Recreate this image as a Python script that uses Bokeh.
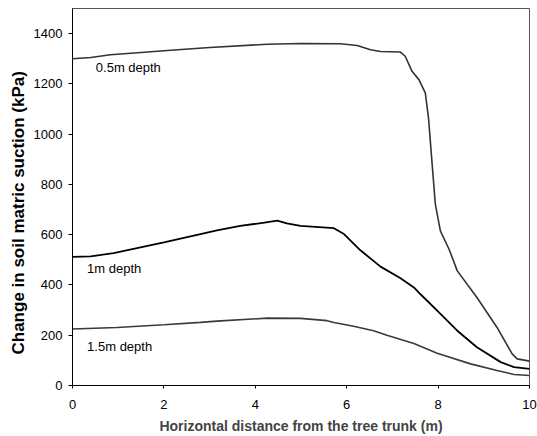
from bokeh.plotting import figure
from bokeh.models import ColumnDataSource, Range1d, FixedTicker, Title
from bokeh.core.properties import value
from bokeh.embed import file_html
from bokeh.resources import INLINE

# ---- data ----
x_05 = [0, 0.4, 0.83, 1.5, 2, 3, 4.26, 5, 5.86, 6.23, 6.52, 6.74, 7.17, 7.28, 7.43,
        7.58, 7.72, 7.79, 7.87, 7.94, 8.05, 8.24, 8.42, 8.85, 9.29, 9.62, 9.73, 10]
y_05 = [1300, 1305, 1316, 1325, 1332, 1345, 1358, 1361, 1360, 1353, 1336, 1329, 1327, 1310, 1250,
        1217, 1164, 1065, 880, 721, 615, 542, 456, 350, 231, 126, 106, 97]

x_1 = [0, 0.4, 0.9, 2, 2.8, 3.16, 3.67, 4.2, 4.48, 4.69, 4.99, 5.72, 5.93, 6.3, 6.74,
       7.17, 7.47, 7.61, 7.98, 8.42, 8.85, 9.37, 9.66, 10]
y_1 = [512, 514, 527, 569, 602, 617, 635, 648, 656, 645, 635, 626, 604, 538, 473,
       428, 390, 364, 298, 218, 152, 93, 73, 66]

x_15 = [0, 0.97, 2, 2.8, 3.16, 4.26, 4.99, 5.57, 5.72, 6.15, 6.59, 6.88, 7.47, 7.98,
        8.71, 9.29, 9.66, 10]
y_15 = [225, 231, 242, 251, 256, 268, 267, 258, 251, 236, 218, 200, 167, 128,
        86, 60, 44, 40]

label_text = ["0.5m depth", "1m depth", "1.5m depth"]
label_x = [0.51, 0.32, 0.32]
label_y = [1267, 465, 155]

x_ticks = [0, 2, 4, 6, 8, 10]
y_ticks = [0, 200, 400, 600, 800, 1000, 1200, 1400]

x_title = "Horizontal distance from the tree trunk (m)"
y_title = "Change in soil matric suction (kPa)"

FONT = "Liberation Sans"

p = figure(width=537, height=436, output_backend="svg", toolbar_location=None,
           x_range=Range1d(0, 10), y_range=Range1d(0, 1500),
           min_border_left=72, min_border_right=8, min_border_top=8, min_border_bottom=51)
p.background_fill_color = "white"
p.border_fill_color = "white"
p.outline_line_color = "#555555"
p.outline_line_width = 1
p.xgrid.visible = False
p.ygrid.visible = False

for ax in (p.xaxis[0], p.yaxis[0]):
    ax.axis_line_color = "black"
    ax.axis_line_width = 1
    ax.major_tick_line_color = "black"
    ax.minor_tick_line_color = None
    ax.major_label_text_font = FONT
    ax.major_label_text_font_size = "13px"
    ax.major_label_text_color = "black"

p.xaxis[0].ticker = FixedTicker(ticks=x_ticks)
p.yaxis[0].ticker = FixedTicker(ticks=y_ticks)
p.xaxis[0].major_tick_out = 3
p.xaxis[0].major_tick_in = 0
p.xaxis[0].major_label_standoff = 11
p.yaxis[0].major_tick_out = 4
p.yaxis[0].major_tick_in = 0
p.yaxis[0].major_label_standoff = 6

p.xaxis[0].axis_label = x_title
p.xaxis[0].axis_label_text_font = FONT
p.xaxis[0].axis_label_text_font_size = "14px"
p.xaxis[0].axis_label_text_font_style = "bold"
p.xaxis[0].axis_label_standoff = 6

p.line(x_05, y_05, line_color="#333333", line_width=1.6)
p.line(x_1, y_1, line_color="#000000", line_width=1.8)
p.line(x_15, y_15, line_color="#3a3a3a", line_width=1.6)

src = ColumnDataSource(dict(x=label_x, y=label_y, t=label_text))
p.text(x="x", y="y", text="t", source=src, text_font=value(FONT),
       text_font_size="13px", text_color="black", text_baseline="middle", text_align="left")

ytitle = Title(text=y_title, align="left", offset=31, vertical_align="middle",
               text_font=FONT, text_font_size="17px", text_font_style="bold",
               text_color="black", standoff=4)
p.add_layout(ytitle, "left")

open("out.html", "w").write(file_html(p, INLINE))
